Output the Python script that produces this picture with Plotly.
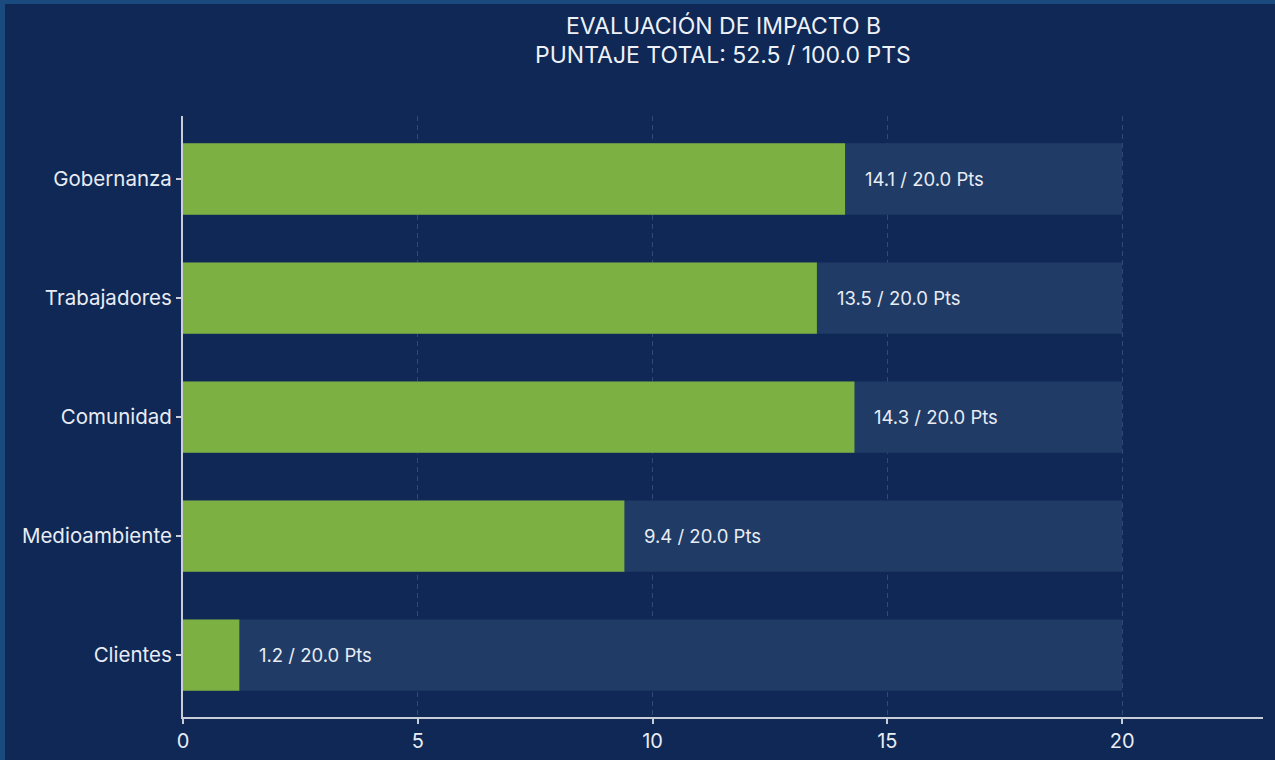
import plotly.graph_objects as go

categories = ["Clientes", "Medioambiente", "Comunidad", "Trabajadores", "Gobernanza"]
scores = [1.2, 9.4, 14.3, 13.5, 14.1]
max_scores = [20.0, 20.0, 20.0, 20.0, 20.0]
total_score = 52.5
total_max = 100.0
x_ticks = [0, 5, 10, 15, 20]

BG = "#0f2855"
FONT = "Inter"
W, H = 1275, 760
L, R, T, B = 183, 12, 116, 43
PW, PH = W - L - R, H - T - B

fig = go.Figure()
fig.add_trace(go.Bar(
    y=categories, x=max_scores, orientation="h",
    marker=dict(color="#1f3b66", line=dict(width=0)),
    width=0.6, hoverinfo="skip", showlegend=False,
))
fig.add_trace(go.Bar(
    y=categories, x=scores, orientation="h",
    marker=dict(color="#7cb042", line=dict(width=0)),
    width=0.6, showlegend=False,
))
for c, s, m in zip(categories, scores, max_scores):
    fig.add_annotation(
        x=s + 0.38, y=c, text=f"{s:.1f} / {m:.1f} Pts",
        showarrow=False, xanchor="left", yanchor="middle",
        font=dict(family=FONT, size=18.5, color="#e8ecf4"),
    )

title_lines = ["EVALUACIÓN DE IMPACTO B",
               f"PUNTAJE TOTAL: {total_score:.1f} / {total_max:.1f} PTS"]
for i, line in enumerate(title_lines):
    fig.add_annotation(
        xref="paper", yref="paper", x=0.5, y=1 + (T - (26.5 + 28 * i)) / PH,
        text=line, showarrow=False, xanchor="center", yanchor="middle",
        font=dict(family=FONT, size=23, color="#eef1f7"),
    )

fig.update_layout(
    barmode="overlay",
    width=W, height=H,
    paper_bgcolor=BG, plot_bgcolor=BG,
    margin=dict(l=L, r=R, t=T, b=B, pad=0, autoexpand=False),
    font=dict(family=FONT, color="#e8ecf4"),
    xaxis=dict(
        range=[0, 23], tickvals=x_ticks, ticktext=[str(t) for t in x_ticks],
        showline=True, linecolor="#c9cdd8", linewidth=2,
        ticks="outside", tickcolor="#c9cdd8", ticklen=5, tickwidth=2,
        showgrid=True, gridcolor="rgba(140,165,210,0.28)", griddash="5px,4px", gridwidth=1,
        zeroline=False, tickfont=dict(size=20, color="#e8ecf4"),
        layer="above traces", automargin=False,
    ),
    yaxis=dict(
        range=[-0.52, 4.53],
        showline=True, linecolor="#c9cdd8", linewidth=2,
        ticks="outside", tickcolor="#c9cdd8", ticklen=5, tickwidth=2,
        showgrid=False, tickfont=dict(size=20.5, color="#e8ecf4"),
        layer="above traces", automargin=False,
    ),
    shapes=[
        dict(type="rect", xref="paper", yref="paper",
             x0=-L / PW, x1=1 + R / PW, y0=1 + (T - 4) / PH, y1=1 + T / PH,
             fillcolor="#1a4a7e", line=dict(width=0), layer="below"),
        dict(type="rect", xref="paper", yref="paper",
             x0=-L / PW, x1=-(L - 5) / PW, y0=-B / PH, y1=1 + T / PH,
             fillcolor="#1a4a7e", line=dict(width=0), layer="below"),
    ],
)
fig.write_html("out.html", config={"displayModeBar": False},
               post_script="document.body.style.margin='0';document.body.style.overflow='hidden';")
